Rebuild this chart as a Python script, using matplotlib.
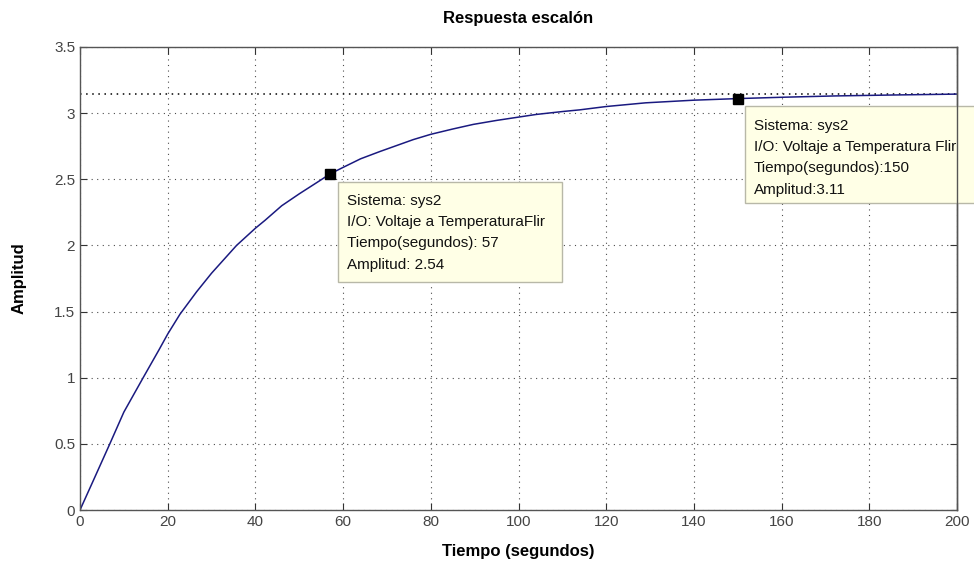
import matplotlib
matplotlib.use("Agg")
import matplotlib.pyplot as plt

plt.rcParams['font.family'] = ['Liberation Sans', 'DejaVu Sans']

# Data
t = [0, 3, 6.8, 10, 14.4, 18, 20, 22.8, 26.6, 30, 35.7, 40, 42.2, 46, 50,
     54.7, 57, 60, 64, 68.4, 76, 80, 85, 89.7, 95, 100, 104, 110, 114, 120,
     129, 140, 150, 160, 172, 185, 198, 200]
amp = [0.0, 0.22, 0.5, 0.74, 1.0, 1.21, 1.33, 1.48, 1.65, 1.79, 2.0, 2.13,
       2.19, 2.30, 2.39, 2.49, 2.54, 2.59, 2.655, 2.71, 2.80, 2.84, 2.88,
       2.915, 2.945, 2.97, 2.99, 3.012, 3.025, 3.05, 3.078, 3.098, 3.11,
       3.12, 3.13, 3.137, 3.143, 3.144]
steady = 3.143
tips_t = [57, 150]
tips_a = [2.54, 3.11]
tip_lines = [
    ["Sistema: sys2", "I/O: Voltaje a TemperaturaFlir", "Tiempo(segundos): 57", "Amplitud: 2.54"],
    ["Sistema: sys2", "I/O: Voltaje a Temperatura Flir", "Tiempo(segundos):150", "Amplitud:3.11"],
]
xticks = list(range(0, 201, 20))
yticks = [0, 0.5, 1, 1.5, 2, 2.5, 3, 3.5]
ytick_labels = ['0', '0.5', '1', '1.5', '2', '2.5', '3', '3.5']

W, H = 974, 565
fig = plt.figure(figsize=(W/100, H/100), dpi=100)
ax = fig.add_axes([80/W, 55/H, 877/W, 463/H])

ax.plot(t, amp, color='#1a1a80', lw=1.1, zorder=3)
ax.axhline(steady, color='black', ls=(0, (1, 3)), lw=1.1, zorder=2)
ax.plot(tips_t, tips_a, 's', color='black', ms=7, zorder=5)

ax.set_xlim(0, 200)
ax.set_ylim(0, 3.5)
ax.set_xticks(xticks)
ax.set_yticks(yticks)
ax.set_yticklabels(ytick_labels)
ax.grid(True, color='black', ls=(0, (1, 4)), lw=0.8, alpha=0.7)
ax.tick_params(direction='in', top=True, right=True, length=5, labelsize=11,
               colors='#333333', labelcolor='#444444')
for s in ax.spines.values():
    s.set_color('#555555')
    s.set_linewidth(1.0)
    s.set_zorder(8)

ax.set_title('Respuesta escalón', fontsize=12, fontweight='bold', pad=17)
ax.set_xlabel('Tiempo (segundos)', fontsize=12, fontweight='bold', labelpad=11)
ax.set_ylabel('Amplitud', fontsize=12, fontweight='bold', labelpad=20)

# datatip boxes, pixel rectangles (x, y_top, w, h) and first-line centre
boxes = [(338, 182, 224, 100, 201), (745, 106, 240, 97, 126)]
for (bx, by, bw, bh, ly), lines in zip(boxes, tip_lines):
    rect = plt.Rectangle((bx/W, 1 - (by + bh)/H), bw/W, bh/H,
                         transform=fig.transFigure, facecolor='#ffffe6',
                         edgecolor='#b8b8a8', lw=1.0, zorder=6, clip_on=False)
    fig.add_artist(rect)
    for i, line in enumerate(lines):
        fig.text((bx + 9)/W, 1 - (ly + 21.2*i)/H, line, fontsize=11,
                 va='center', ha='left', color='#111111', zorder=7)

# right spine drawn over the second tip box, as in the reference
fig.add_artist(plt.Line2D([957/W, 957/W], [55/H, 518/H], color='#555555',
                          lw=1.0, transform=fig.transFigure, zorder=9))

fig.savefig('out.png', dpi=100)
